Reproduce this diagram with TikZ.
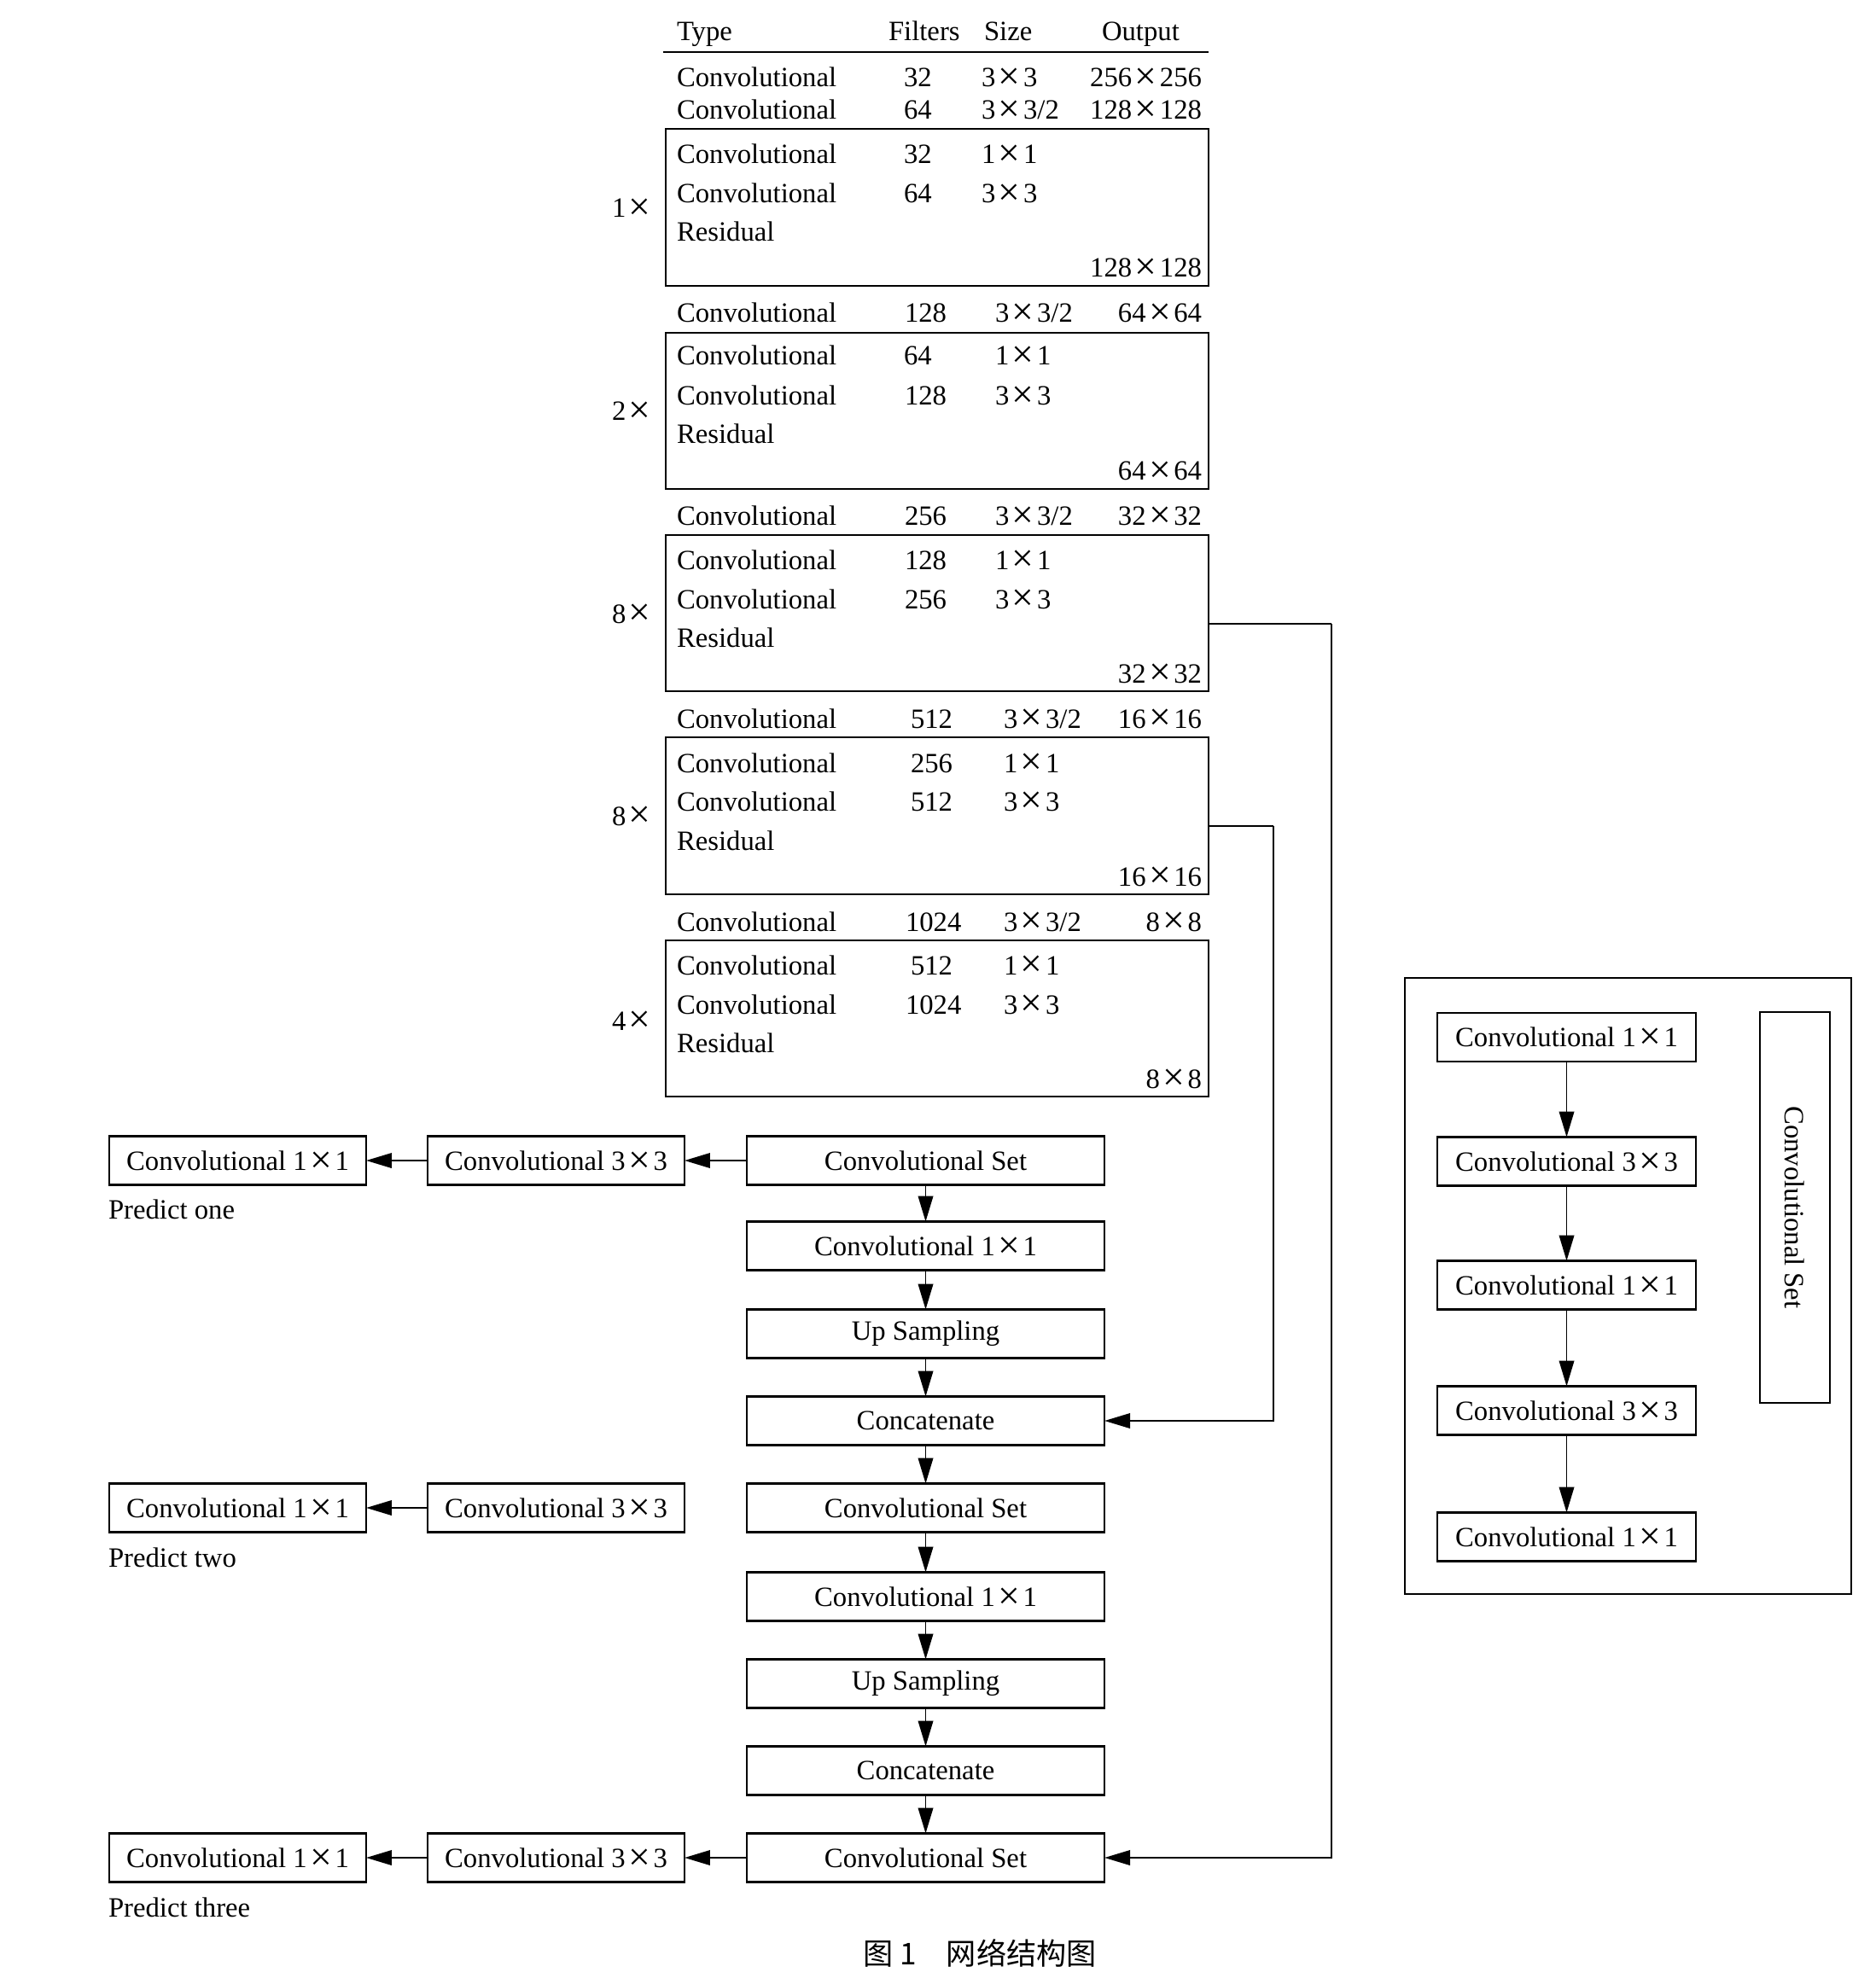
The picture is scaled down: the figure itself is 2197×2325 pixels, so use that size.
\documentclass[tikz,border=0pt]{standalone}
\usepackage{fontspec}
\usepackage{graphicx}
\setmainfont{Liberation Serif}
\newfontfamily\cjk{Noto Sans CJK SC}
\usetikzlibrary{arrows.meta}
\newcommand\X{\makebox[1em]{\smash{\raisebox{-0.09em}{\scalebox{1.4}{×}}}}}
\begin{document}
\begin{tikzpicture}[x=0.01cm,y=-0.01cm,
  tx/.style={font=\fontsize{9.3}{11}\selectfont, inner sep=0pt, outer sep=0pt},
  tw/.style={tx, anchor=base west},
  te/.style={tx, anchor=base east},
  resbox/.style={draw, line width=0.6pt, anchor=north west, minimum width=6.36cm, minimum height=1.83cm, inner sep=0pt, outer sep=0pt},
  blk/.style={draw, line width=0.6pt, font=\fontsize{9.3}{11}\selectfont, minimum height=0.57cm, inner sep=0pt, outer sep=0pt},
  mainblk/.style={blk, minimum width=4.19cm},
  sideblk/.style={blk, minimum width=3.01cm},
  setblk/.style={blk, minimum width=3.03cm},
  arr/.style={line width=0.5pt, -{Triangle[length=8.5pt,width=5pt]}},
  conn/.style={line width=0.5pt}
]
\useasboundingbox (0,0) rectangle (2197,2325);

% ---------- header ----------
\node[tw] (hT) at (793,48) {Type};
\node[tw] (hF) at (1041,48) {Filters};
\node[tw] (hS) at (1153,48) {Size};
\node[tw] (hO) at (1291,48) {Output};
\coordinate (rl) at (777,61);
\coordinate (rr) at (1416,61);
\draw[line width=0.6pt] (rl) -- (rr);

% ---------- first rows ----------
\node[tw] (r1t) at (793,102) {Convolutional};
\node[tw] (r1f) at (1059,102) {32};
\node[tw] (r1s) at (1150,102) {3\X3};
\node[te] (r1o) at (1408,102) {256\X256};
\node[tw] (r2t) at (793,140) {Convolutional};
\node[tw] (r2f) at (1059,140) {64};
\node[tw] (r2s) at (1150,140) {3\X3/2};
\node[te] (r2o) at (1408,140) {128\X128};

% ---------- block 1x ----------
\node[resbox, minimum height=1.84cm] (b1) at (780,151) {};
\node[tw] (b1a) at (793,192) {Convolutional};
\node[tw] (b1af) at (1059,192) {32};
\node[tw] (b1as) at (1150,192) {1\X1};
\node[tw] (b1b) at (793,238) {Convolutional};
\node[tw] (b1bf) at (1059,238) {64};
\node[tw] (b1bs) at (1150,238) {3\X3};
\node[tw] (b1r) at (793,283) {Residual};
\node[te] (b1o) at (1408,325) {128\X128};
\node[tw] (b1l) at (717,255) {1\X};

% ---------- block 2x ----------
\node[tw] (r3t) at (793,378) {Convolutional};
\node[tw] (r3f) at (1060,378) {128};
\node[tw] (r3s) at (1166,378) {3\X3/2};
\node[te] (r3o) at (1408,378) {64\X64};
\node[resbox] (b2) at (780,390) {};
\node[tw] (b2a) at (793,428) {Convolutional};
\node[tw] (b2af) at (1059,428) {64};
\node[tw] (b2as) at (1166,428) {1\X1};
\node[tw] (b2b) at (793,475) {Convolutional};
\node[tw] (b2bf) at (1060,475) {128};
\node[tw] (b2bs) at (1166,475) {3\X3};
\node[tw] (b2r) at (793,520) {Residual};
\node[te] (b2o) at (1408,563) {64\X64};
\node[tw] (b2l) at (717,493) {2\X};

% ---------- block 8x (a) ----------
\node[tw] (r4t) at (793,616) {Convolutional};
\node[tw] (r4f) at (1060,616) {256};
\node[tw] (r4s) at (1166,616) {3\X3/2};
\node[te] (r4o) at (1408,616) {32\X32};
\node[resbox] (b3) at (780,627) {};
\node[tw] (b3a) at (793,667) {Convolutional};
\node[tw] (b3af) at (1060,667) {128};
\node[tw] (b3as) at (1166,667) {1\X1};
\node[tw] (b3b) at (793,713) {Convolutional};
\node[tw] (b3bf) at (1060,713) {256};
\node[tw] (b3bs) at (1166,713) {3\X3};
\node[tw] (b3r) at (793,758) {Residual};
\node[te] (b3o) at (1408,800) {32\X32};
\node[tw] (b3l) at (717,730) {8\X};

% ---------- block 8x (b) ----------
\node[tw] (r5t) at (793,853) {Convolutional};
\node[tw] (r5f) at (1067,853) {512};
\node[tw] (r5s) at (1176,853) {3\X3/2};
\node[te] (r5o) at (1408,853) {16\X16};
\node[resbox, minimum height=1.84cm] (b4) at (780,864) {};
\node[tw] (b4a) at (793,905) {Convolutional};
\node[tw] (b4af) at (1067,905) {256};
\node[tw] (b4as) at (1176,905) {1\X1};
\node[tw] (b4b) at (793,950) {Convolutional};
\node[tw] (b4bf) at (1067,950) {512};
\node[tw] (b4bs) at (1176,950) {3\X3};
\node[tw] (b4r) at (793,996) {Residual};
\node[te] (b4o) at (1408,1038) {16\X16};
\node[tw] (b4l) at (717,967) {8\X};

% ---------- block 4x ----------
\node[tw] (r6t) at (793,1091) {Convolutional};
\node[tw] (r6f) at (1061,1091) {1024};
\node[tw] (r6s) at (1176,1091) {3\X3/2};
\node[te] (r6o) at (1408,1091) {8\X8};
\node[resbox] (b5) at (780,1102) {};
\node[tw] (b5a) at (793,1142) {Convolutional};
\node[tw] (b5af) at (1067,1142) {512};
\node[tw] (b5as) at (1176,1142) {1\X1};
\node[tw] (b5b) at (793,1188) {Convolutional};
\node[tw] (b5bf) at (1061,1188) {1024};
\node[tw] (b5bs) at (1176,1188) {3\X3};
\node[tw] (b5r) at (793,1233) {Residual};
\node[te] (b5o) at (1408,1275) {8\X8};
\node[tw] (b5l) at (717,1207) {4\X};

% ---------- main column ----------
\node[mainblk] (set1) at (1084.5,1360) {Convolutional Set};
\node[mainblk] (c1a)  at (1084.5,1460) {Convolutional 1\X1};
\node[mainblk] (up1)  at (1084.5,1563) {Up Sampling};
\node[mainblk] (cat1) at (1084.5,1665) {Concatenate};
\node[mainblk] (set2) at (1084.5,1767) {Convolutional Set};
\node[mainblk] (c1b)  at (1084.5,1871) {Convolutional 1\X1};
\node[mainblk] (up2)  at (1084.5,1973) {Up Sampling};
\node[mainblk] (cat2) at (1084.5,2075) {Concatenate};
\node[mainblk] (set3) at (1084.5,2177) {Convolutional Set};

\draw[arr] (set1) -- (c1a);
\draw[arr] (c1a) -- (up1);
\draw[arr] (up1) -- (cat1);
\draw[arr] (cat1) -- (set2);
\draw[arr] (set2) -- (c1b);
\draw[arr] (c1b) -- (up2);
\draw[arr] (up2) -- (cat2);
\draw[arr] (cat2) -- (set3);

% ---------- prediction branches ----------
\node[sideblk] (p1b) at (651.5,1360) {Convolutional 3\X3};
\node[sideblk] (p1a) at (278.5,1360) {Convolutional 1\X1};
\node[sideblk] (p2b) at (651.5,1767) {Convolutional 3\X3};
\node[sideblk] (p2a) at (278.5,1767) {Convolutional 1\X1};
\node[sideblk] (p3b) at (651.5,2177) {Convolutional 3\X3};
\node[sideblk] (p3a) at (278.5,2177) {Convolutional 1\X1};
\node[tw] (pr1) at (127,1428) {Predict one};
\node[tw] (pr2) at (127,1836) {Predict two};
\node[tw] (pr3) at (127,2246) {Predict three};

\draw[arr] (set1) -- (p1b);
\draw[arr] (p1b) -- (p1a);
\draw[arr] (p2b) -- (p2a);
\draw[arr] (set3) -- (p3b);
\draw[arr] (p3b) -- (p3a);

% ---------- skip connections ----------
\coordinate (j3) at (1560,731);
\coordinate (j4) at (1492,968);
\draw[conn] (b3.east |- j3) -- (j3);
\draw[arr] (j3) |- (set3.east);
\draw[conn] (b4.east |- j4) -- (j4);
\draw[arr] (j4) |- (cat1.east);

% ---------- right panel ----------
\node[draw, line width=0.6pt, minimum width=5.23cm, minimum height=7.22cm, inner sep=0pt] (op) at (1907.5,1507) {};
\node[setblk] (s1) at (1835.5,1215.5) {Convolutional 1\X1};
\node[setblk] (s2) at (1835.5,1361) {Convolutional 3\X3};
\node[setblk] (s3) at (1835.5,1506) {Convolutional 1\X1};
\node[setblk] (s4) at (1835.5,1653) {Convolutional 3\X3};
\node[setblk] (s5) at (1835.5,1801) {Convolutional 1\X1};
\draw[arr] (s1) -- (s2);
\draw[arr] (s2) -- (s3);
\draw[arr] (s3) -- (s4);
\draw[arr] (s4) -- (s5);
\node[blk, rotate=-90, minimum width=4.58cm, minimum height=0.82cm] (vs) at (2103,1415) {Convolutional Set};

% ---------- caption ----------
\node[font=\cjk\fontsize{10}{12}\selectfont, inner sep=0pt] (cap) at (1148,2289) {图 1\hspace{1em}网络结构图};
\end{tikzpicture}
\end{document}
